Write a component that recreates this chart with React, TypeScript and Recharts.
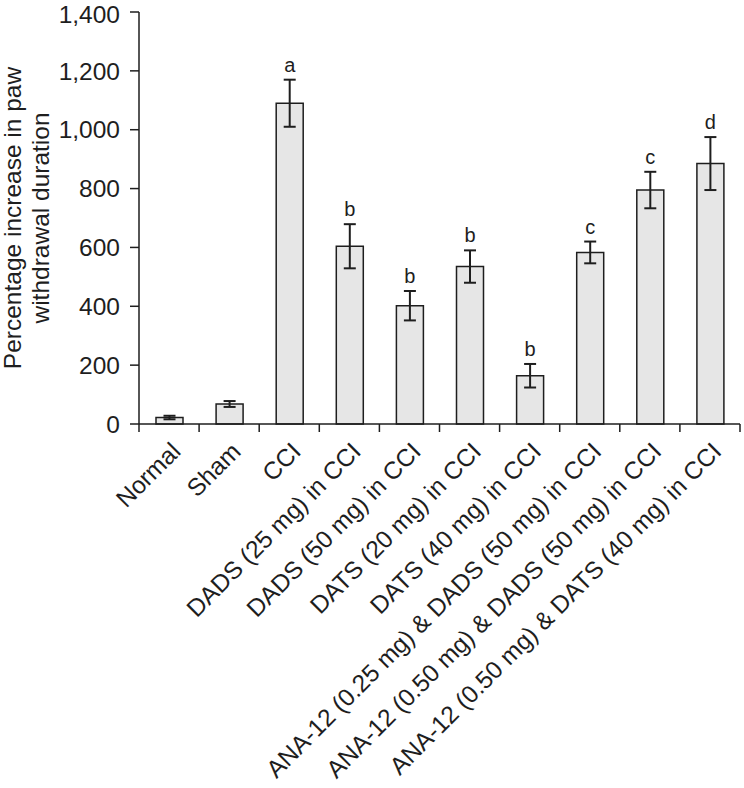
import React from "react";
import { Bar, BarChart, ErrorBar, LabelList, XAxis, YAxis, Label } from "recharts";

const categories = [
  "Normal",
  "Sham",
  "CCI",
  "DADS (25 mg) in CCI",
  "DADS (50 mg) in CCI",
  "DATS (20 mg) in CCI",
  "DATS (40 mg) in CCI",
  "ANA-12 (0.25 mg) & DADS (50 mg) in CCI",
  "ANA-12 (0.50 mg) & DADS (50 mg) in CCI",
  "ANA-12 (0.50 mg) & DATS (40 mg) in CCI",
];
const values = [22, 68, 1090, 604, 402, 535, 164, 583, 795, 885];
const errors = [6, 10, 80, 75, 50, 55, 40, 37, 62, 90];
const letters = ["", "", "a", "b", "b", "b", "b", "c", "c", "d"];
const yTicks = [0, 200, 400, 600, 800, 1000, 1200, 1400];

const data = categories.map((name, i) => ({
  name,
  value: values[i],
  err: errors[i],
  letter: letters[i],
}));

const FONT = '"Liberation Sans", Arial, sans-serif';
const INK = "#1e1e1e";
const W = 744;
const H = 788;
const LEFT = 139;
const RIGHT = 4;
const BAND = (W - LEFT - RIGHT) / categories.length;

function XTick(props: any) {
  const { x, y, payload, index } = props;
  const ax = x + 13;
  const ay = y + 29;
  return (
    <g>
      <line x1={x - BAND / 2} y1={y} x2={x - BAND / 2} y2={y + 8} stroke={INK} strokeWidth={1.5} />
      {index === categories.length - 1 && (
        <line x1={x + BAND / 2} y1={y} x2={x + BAND / 2} y2={y + 8} stroke={INK} strokeWidth={1.5} />
      )}
      <text
        x={ax}
        y={ay}
        transform={`rotate(-45 ${ax} ${ay})`}
        textAnchor="end"
        fontSize={24.5}
        fontFamily={FONT}
        fill={INK}
      >
        {payload.value}
      </text>
    </g>
  );
}

function LetterLabel(props: any) {
  const { index, value } = props;
  const vb = props.viewBox || props;
  const x = props.x ?? vb.x;
  const y = props.y ?? vb.y;
  const width = props.width ?? vb.width;
  const height = props.height ?? vb.height;
  if (!value) return null;
  const perUnit = height / values[index];
  const top = y - errors[index] * perUnit;
  return (
    <text x={x + width / 2} y={top - 8} textAnchor="middle" fontSize={20} fontFamily={FONT} fill={INK}>
      {value}
    </text>
  );
}

function YTitle(props: any) {
  const vb = props.viewBox;
  const cy = vb.y + vb.height / 2;
  return (
    <g fontFamily={FONT} fontSize={24.5} fill={INK}>
      <text x={21} y={cy} transform={`rotate(-90 21 ${cy})`} textAnchor="middle">
        Percentage increase in paw
      </text>
      <text x={49} y={cy} transform={`rotate(-90 49 ${cy})`} textAnchor="middle">
        withdrawal duration
      </text>
    </g>
  );
}

export default function App() {
  return (
    <div style={{ position: "absolute", left: 0, top: 0, width: W, height: H, background: "#fff" }}>
      <BarChart
        width={W}
        height={H}
        data={data}
        margin={{ top: 12, right: RIGHT, bottom: 0, left: 0 }}
        barSize={27}
      >
        <XAxis
          dataKey="name"
          height={364}
          interval={0}
          tickSize={0}
          tickMargin={0}
          tick={<XTick />}
          axisLine={{ stroke: INK, strokeWidth: 1.5 }}
        />
        <YAxis
          width={LEFT}
          domain={[0, 1400]}
          ticks={yTicks}
          tickSize={9}
          tickMargin={10}
          tickFormatter={(v: number) => v.toLocaleString("en-US")}
          tick={{ fontSize: 24.5, fontFamily: FONT, fill: INK }}
          tickLine={{ stroke: INK, strokeWidth: 1.5 }}
          axisLine={{ stroke: INK, strokeWidth: 1.5 }}
        >
          <Label content={<YTitle />} />
        </YAxis>
        <Bar dataKey="value" fill="#e6e6e6" stroke={INK} strokeWidth={1.5} isAnimationActive={false}>
          <ErrorBar dataKey="err" width={6} stroke={INK} strokeWidth={2} />
          <LabelList dataKey="letter" content={<LetterLabel />} />
        </Bar>
      </BarChart>
    </div>
  );
}
